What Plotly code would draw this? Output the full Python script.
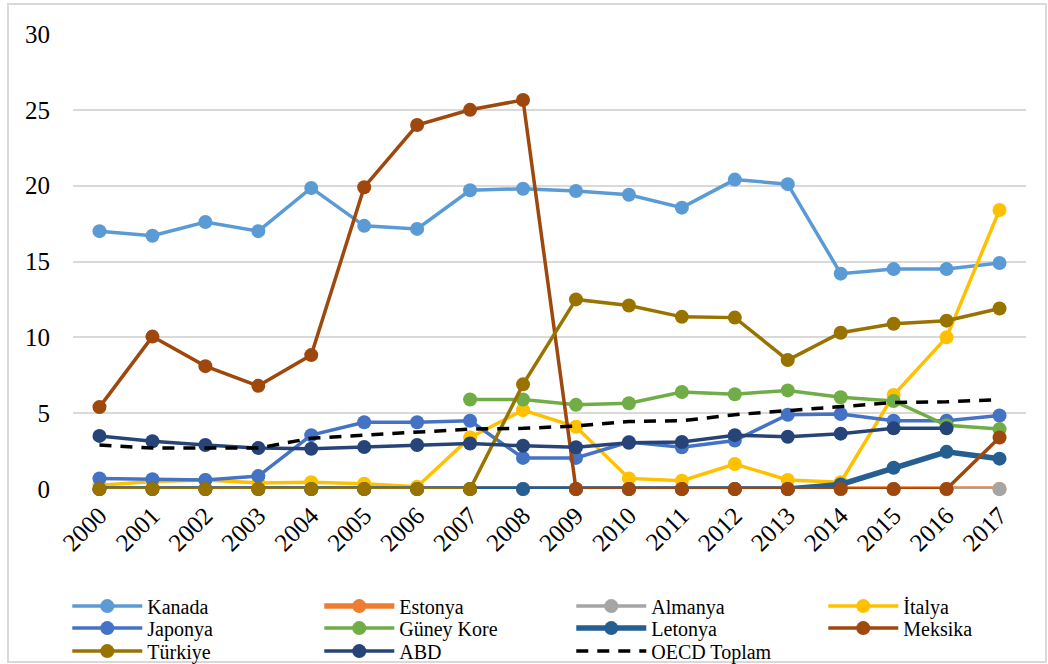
import plotly.graph_objects as go

years = [str(y) for y in range(2000, 2018)]

kanada = [17.0, 16.7, 17.6, 17.0, 19.85, 17.35, 17.15, 19.7, 19.8, 19.65, 19.4, 18.55, 20.4, 20.1, 14.2, 14.5, 14.5, 14.9]
estonya = [0.0] * 18
almanya = [0.0] * 18
italya = [0.25, 0.5, 0.6, 0.4, 0.45, 0.35, 0.15, 3.4, 5.2, 4.1, 0.7, 0.55, 1.65, 0.6, 0.45, 6.2, 10.0, 18.4]
japonya = [0.7, 0.65, 0.6, 0.85, 3.55, 4.4, 4.4, 4.5, 2.05, 2.05, 3.1, 2.75, 3.2, 4.9, 4.95, 4.5, 4.5, 4.85]
guney_kore = [None] * 7 + [5.9, 5.9, 5.55, 5.65, 6.4, 6.25, 6.5, 6.05, 5.8, 4.2, 3.95]
letonya = [0.0] * 14 + [0.3, 1.4, 2.45, 2.0]
meksika = [5.4, 10.05, 8.1, 6.8, 8.83, 19.9, 24.0, 25.0, 25.65, 0, 0, 0, 0, 0, 0, 0, 0, 3.4]
turkiye = [0.0] * 8 + [6.9, 12.5, 12.1, 11.35, 11.3, 8.5, 10.3, 10.9, 11.1, 11.9]
abd = [3.5, 3.15, 2.9, 2.7, 2.65, 2.77, 2.9, 3.0, 2.85, 2.75, 3.05, 3.1, 3.55, 3.45, 3.65, 4.0, 4.0, None]
oecd = [2.9, 2.7, 2.7, 2.7, 3.35, 3.55, 3.75, 3.95, 4.0, 4.15, 4.45, 4.5, 4.9, 5.15, 5.4, 5.7, 5.75, 5.9]

series = [
    ("Kanada", kanada, "#5B9BD5", 3.5),
    ("Estonya", estonya, "#ED7D31", 5.5),
    ("Almanya", almanya, "#A5A5A5", 3.5),
    ("İtalya", italya, "#FFC000", 3.5),
    ("Japonya", japonya, "#4472C4", 3.5),
    ("Güney Kore", guney_kore, "#70AD47", 3.5),
    ("Letonya", letonya, "#255E91", 5.5),
    ("Meksika", meksika, "#9E480E", 3.5),
    ("Türkiye", turkiye, "#997300", 3.5),
    ("ABD", abd, "#264478", 3.5),
]

# legend rows of four entries each
legend_ids = ["legend", "legend2", "legend3"]

fig = go.Figure()
for i, (name, vals, color, lw) in enumerate(series):
    fig.add_trace(go.Scatter(
        x=years, y=vals, name=name, mode="lines+markers",
        line=dict(color=color, width=lw),
        marker=dict(color=color, size=14),
        cliponaxis=False, legend=legend_ids[i // 4],
    ))

fig.add_trace(go.Scatter(
    x=years, y=oecd, name="OECD Toplam", mode="lines",
    line=dict(color="black", width=3.5, dash="12px,9px"),
    cliponaxis=False, legend="legend3",
))

serif = "Liberation Serif"


def legend_row(ypos):
    return dict(
        orientation="h", x=-0.006, xanchor="left", y=ypos, yanchor="top",
        font=dict(family=serif, size=20, color="black"), itemwidth=70,
        entrywidth=167, entrywidthmode="pixels", bgcolor="rgba(0,0,0,0)",
    )


fig.update_layout(
    width=1048, height=664,
    margin=dict(l=73, r=22, t=34, b=175, autoexpand=False),
    paper_bgcolor="white", plot_bgcolor="white",
    font=dict(family=serif, color="black"),
    xaxis=dict(
        type="category", range=[-0.5, 17.5], tickangle=-45, showgrid=False,
        showline=False, zeroline=False, tickfont=dict(family=serif, size=25),
        ticks="", ticklabelstandoff=6, automargin=False,
    ),
    yaxis=dict(
        range=[0, 30], dtick=5, showgrid=True, gridcolor="#D9D9D9", gridwidth=2,
        zeroline=False, showline=False, tickfont=dict(family=serif, size=25),
        ticks="", ticklabelstandoff=22, automargin=False,
    ),
    legend=legend_row(-0.2145),
    legend2=legend_row(-0.2629),
    legend3=legend_row(-0.3134),
    shapes=[dict(
        type="rect", xref="paper", yref="paper",
        x0=(8 - 73) / 953, x1=(1046 - 73) / 953,
        y0=(489 - 662) / 455, y1=(489 - 4) / 455,
        line=dict(color="#D9D9D9", width=2), layer="below",
    )],
)

fig.write_html("out.html")
